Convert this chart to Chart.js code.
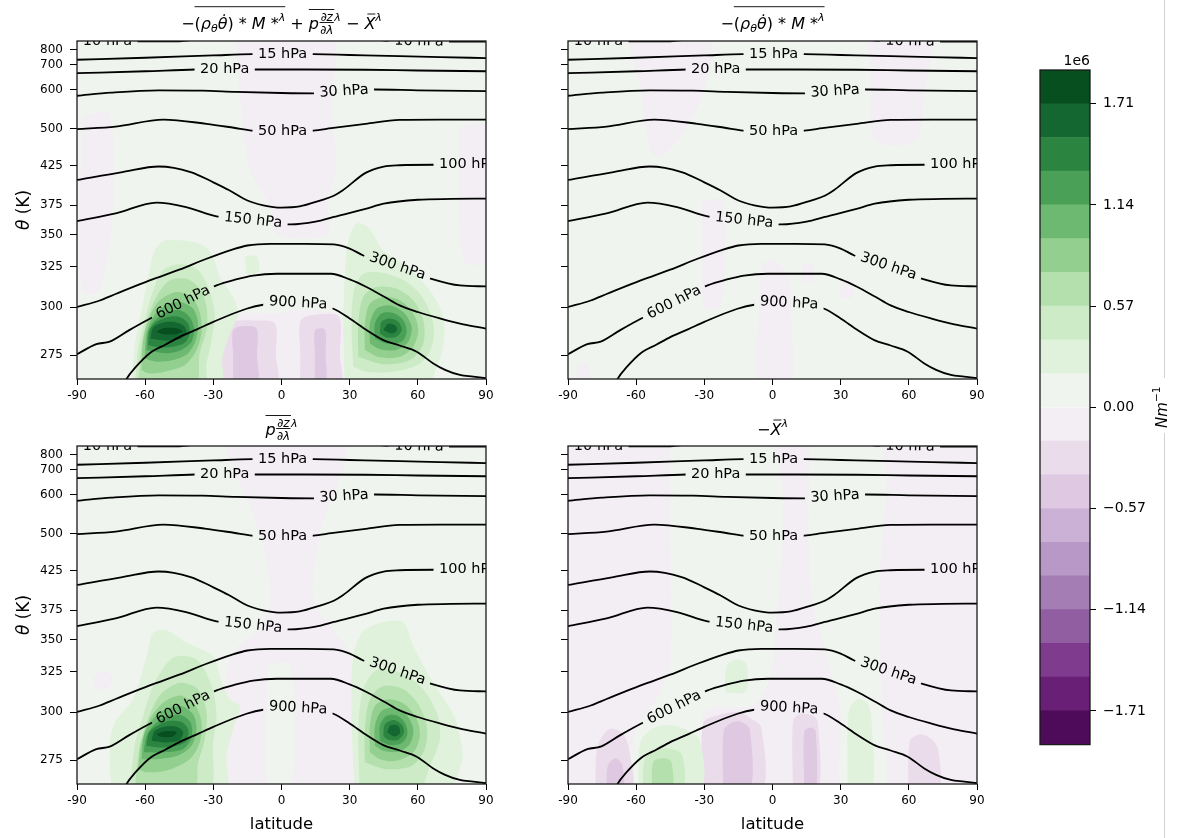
<!DOCTYPE html>
<html>
<head>
<meta charset="utf-8">
<script src="https://cdn.jsdelivr.net/npm/chart.js@4.4.0/dist/chart.umd.min.js"></script>
<style>
  body { margin: 0; background: #fff; width: 1181px; height: 838px; overflow: hidden; position: relative; }
  canvas { position: absolute; }
  .edge { position: absolute; left: 1164px; width: 1px; background: #d2d2d2; }
</style>
</head>
<body>
<canvas id="c1" width="510" height="406" style="left:0;top:0;width:510px;height:406px"></canvas>
<canvas id="c2" width="510" height="406" style="left:491px;top:0;width:510px;height:406px"></canvas>
<canvas id="c3" width="510" height="433" style="left:0;top:405px;width:510px;height:433px"></canvas>
<canvas id="c4" width="510" height="433" style="left:491px;top:405px;width:510px;height:433px"></canvas>
<canvas id="cb" width="181" height="710" style="left:1000px;top:50px;width:181px;height:710px"></canvas>
<div class="edge" style="top:0;height:378px"></div>
<div class="edge" style="top:433px;height:405px"></div>
<script>
// ---- axes ----
const latTicks = [-90, -60, -30, 0, 30, 60, 90];
const thetaTicks = [275, 300, 325, 350, 375, 425, 500, 600, 700, 800];
// vertical coordinate is not linear in theta: anchor thetas and where they sit (fraction of height)
const thetaAnchor = [262, 275, 300, 325, 350, 375, 425, 500, 600, 700, 800, 860];
const thetaFrac   = [0, 0.0706, 0.213, 0.333, 0.4275, 0.514, 0.631, 0.741, 0.8565, 0.9295, 0.975, 1];

// ---- colour levels (1e6 N m^-1) ----
const levels = [-1.9, -1.71, -1.52, -1.33, -1.14, -0.95, -0.76, -0.57, -0.38, -0.19, 0,
                0.19, 0.38, 0.57, 0.76, 0.95, 1.14, 1.33, 1.52, 1.71, 1.9];
const cbTicks = [-1.71, -1.14, -0.57, 0, 0.57, 1.14, 1.71];
const bandColors = ['#4d0b59','#681f75','#7f3b8d','#905ea1','#a37db4','#b898c6','#cbb1d5','#dec8e2','#ebdceb','#f3eef3',
                    '#eff5ee','#e0f2dc','#ccebc6','#b3e0ad','#93d090','#6db971','#4aa056','#2b8541','#146730','#074f1f'];

// ---- isobars (same in every panel) ----
const isoNames = ['10 hPa','15 hPa','20 hPa','30 hPa','50 hPa','100 hPa','150 hPa','300 hPa','600 hPa','900 hPa'];
const isoLat = [
  [-90,-77,-60,-45,-40,-20,0,20,40,47,60,75,90],
  [-90,-60,-30,-13,0,14,30,52,70,90],
  [-90,-60,-38,-25,-12,10,37,60,90],
  [-90,-75,-54,-35,-20,0,14,27,41,60,90],
  [-90,-73,-52,-33,-21,-13,0,14,22,37,52,70,90],
  [-90,-70,-54,-40,-30,-23,-15,-8,0,8,17,23,27,37,45,52,67,90],
  [-90,-73,-55,-42,-28.6,-12,4,15,23,37,45,60,75,90],
  [-90,-80,-73,-58,-45,-33,-22,-15,-5,10,23,30,36,51,66,78.5,90],
  [-90,-81.5,-75.6,-67,-59.4,-43,-28.6,-20,-12.5,-2,10,21.7,30,37.4,45,52,60,70,80,90],
  [-70,-68.2,-64,-58,-51,-44.8,-37,-30,-15.4,-8,7,22.8,30,37.4,44.8,52,59.5,66.8,72,78.5,84.4,90]
];
const isoTheta = [
  [857,857,857,858,866,880,885,880,872,862,857,856,855],
  [733,746,761,769,770,769,764,757,750,744],
  [666,674,681,682,681,681,680,677,674],
  [584,592,598,597,594,591,590,595,600,598,596],
  [499,505,523,512,502,496,494,496,501,512,522,523,523],
  [407,417,424,417,404,394,381,375,373,374,381,387,394,416,424,426,427,427],
  [361.5,368,378.4,373.5,365.5,362,358.6,361,365,372,377,382,383,383.5],
  [300,304,308,316.4,323,331,338,341.4,342.7,342.7,342.2,339,333.6,325,317.4,313.3,312.7],
  [275.5,280.7,282,288,293,303,313.3,317,319.4,320.5,320.5,320.5,317,312.3,306.5,301,297.4,294,291,288.8],
  [257,262,268.7,276,280.5,284.5,288.5,292.3,299.1,301.4,302.5,299.1,294,288,282.8,280,276.8,270.5,267,264.2,263.3,262.4]
];
const isoLabelLat = [[-76.6, 60.5], [0.5], [-25], [27.5], [0.5], [82.2], [-12.5], [51], [-43.3], [7.3]];

// ---- filled contour regions, one list per panel (value, lat outline, theta outline) ----
const panelBase = [0.1, 0.1, 0.1, -0.1];

const p1Level = [-0.1,-0.1,-0.1,-0.1,-0.28,-0.28,-0.47,-0.47,
  0.28,0.28,0.28,0.47,0.47,0.66,0.66,0.85,0.85,1.05,1.05,1.24,1.24,1.43,1.43,1.62,1.62,1.81];
const p1Lat = [
  [-20,22,22,24,20,20,-2,-6,-14,-18],
  [-88,-76,-74,-80,-88],
  [78,92,92,80],
  [-30.1,-30,-29.4,-26.4,-12,-0.7,5.1,22.8,26.9,27,27.2],
  [-28.3,-28.2,-27.9,-21.3,-12,-2.9,-2.5,-2.2],
  [8.1,8.3,8.5,16.9,25.4,25.7,26],
  [-21.3,-21.3,-21.3,-16.9,-11,-10.8,-10.7],
  [14.7,14.7,14.8,19.1,19.4,19.5],
  [-66,-64.6,-61.6,-58.7,-56.2,-52.1,-43.3,-34.5,-30.1,-27.1,-21.3,-19.1,-22.7,-26,-27.1],
  [-16,-11,-10,-15],
  [27.9,27.2,27.9,29.4,33,38.2,44.8,56.5,65.3,71.2,71.2,68.3,63.9],
  [-64.6,-63.1,-60.2,-56.5,-52.1,-46.2,-37.4,-32.3,-29.4,-30.8,-33,-34.2],
  [31.6,30.8,31.9,36,44.8,55.1,62.4,66.8,66.1,61,49.2,37.4],
  [-63.1,-61.6,-58.7,-54.3,-49.2,-41.8,-36,-33,-33,-36,-38.2],
  [33.8,33.8,36,41.8,50.6,58,62.4,62.4,56.5,44.8],
  [-61.6,-60.9,-58,-53.6,-46.2,-39.6,-36,-35.2,-37.4,-42.6,-51.4,-58.7],
  [36.7,36.7,38.9,44.8,52.1,58,60.2,58,52.1,43.3],
  [-60.2,-59.4,-56.5,-51.4,-44.8,-38.9,-36.7,-37.7,-41.1,-47.7,-55],
  [38.9,38.9,41.8,47.7,53.6,57.3,55.8,50.6,43.3],
  [-59.4,-58.7,-55.8,-50.6,-44.8,-40.4,-38.5,-39.6,-44,-50.6],
  [41.1,41.1,44,49.2,53.6,55.1,52.9,46.2],
  [-58.7,-58,-55,-49.9,-44.8,-41.1,-40.4,-42.6,-47.7,-53.6],
  [43.3,44,47.7,51.4,52.9,50.6,46.2],
  [-57.7,-56.5,-52.9,-47.7,-43.3,-41.8,-44,-49.9],
  [44.8,47,49.9,50.9,48.5],
  [-55,-52.1,-46.2,-43.6,-46.5,-52.4]
];
const p1Theta = [
  [880,880,560,420,380,350,350,380,420,560],
  [530,540,380,310,310],
  [505,505,330,330],
  [258,275,291.4,296.2,297,296.6,298.3,297.4,291.4,275,258],
  [258,275,289.7,292.7,293,291.4,275,258],
  [258,275,293.1,296.2,294.8,275,258],
  [258,275,288,290,288.8,275,258],
  [258,275,288,288.3,275,258],
  [258,279.4,298.3,318.4,336.2,344.8,345.3,341.4,332.3,318.4,306.2,296.6,286.2,274.1,258],
  [333,333,322,320],
  [258,288,320.5,345.3,359.2,356.3,337.5,323.6,310.2,294.8,279.4,268.7,258],
  [258,277.7,293.1,310.2,322.5,326.6,323.6,312.3,296.6,282.8,270.5,258],
  [268.7,291.4,310.2,320.5,320.9,315.4,305.1,291.4,279.4,270.5,266,266],
  [258,279.4,294.8,308.2,316.4,317.4,311.3,300,288,276,258],
  [274.1,291.4,306.2,312.3,311.3,304.1,293.1,281.1,272.3,270.1],
  [266.9,282.8,294.8,304.1,309.2,306.2,297.4,287.1,277.7,269.6,266,265.1],
  [277.7,291.4,302.1,306.2,304.1,296.6,288,279.4,274.1,273.8],
  [273.2,286.2,294.8,301,303.1,299.1,291.4,282.8,276,272.3,271.4],
  [281.1,291.4,299.1,301,297.4,289.7,281.9,277.7,278.1],
  [277.7,287.1,293.1,297.4,298.3,294.8,288.8,281.9,277.7,276],
  [283.7,291.4,296.6,296.9,293.1,287.1,281.9,281.1],
  [280.2,288,292.3,294.8,294.8,291.4,286.2,281.4,279.4,279],
  [286.2,292.3,294,292.3,288,284.5,284.2],
  [283.7,289.3,291.7,292.3,290.5,287.1,283.7,282.5],
  [288,291.4,290.5,288,286.2],
  [287.3,289,289,287.4,285.9,285.9]
];

const p2Level = [-0.1,-0.1,-0.1,-0.1,-0.1,-0.1,-0.1];
const p2Lat = [
  [-64,-28,-30,-37,-47,-53,-56,-58],
  [42,69,67,63,45,43],
  [-31,-22,-21,-23,-30,-31],
  [-5,1,7,8,8,-6,-6],
  [30,35,35,30],
  [-86,-81,-81,-86],
  [13,18,18,13]
];
const p2Theta = [
  [880,880,598,510,450,450,510,598],
  [880,880,600,476,476,600],
  [381,381,330,300,300,330],
  [327,330,318,300,258,258,300],
  [316,316,306,306],
  [270,270,258,258],
  [327,327,316,316]
];

const p3Level = [-0.1,0.1,-0.1,
  0.28,0.28,0.47,0.47,0.66,0.66,0.85,0.85,1.05,1.05,1.24,1.24,1.43,1.43,1.62,1.62,1.81];
const p3Lat = [
  [-25.7,27.2,17,14,22,31,31,-23,-23,-10,-5,-9.5],
  [-6,4,4,-6],
  [-83,-78,-74,-77,-82],
  [-74.9,-75.6,-73.4,-65.3,-59.4,-56.5,-50.6,-41.8,-30.1,-27.1,-22.7,-18.3,-21.3,-24.2,-25],
  [32.3,30.8,31.6,36,44.8,53.6,58,66.8,76,79.3,79.3,72.7],
  [-66.8,-64.6,-60.9,-55.8,-47.7,-37.4,-30.8,-28.6,-30.1,-32.3],
  [34.5,33.8,36,41.8,50.6,61,68.3,69.7,65.3,60],
  [-64.6,-62.4,-58.7,-53.6,-44.8,-36.7,-33,-33.8,-36.7,-38.9],
  [36.7,36.7,38.9,44.8,53.6,60.2,63.9,63.1,57.3,46.2],
  [-63.1,-61.6,-58,-52.1,-44.8,-38.2,-35.2,-36,-40.4,-50.6,-59.4],
  [38.9,38.9,41.1,47,54.3,59.5,60.9,58,50.6,43.3],
  [-61.6,-60.6,-57.2,-51.4,-44,-38.9,-37.4,-39.6,-45.5,-55],
  [41.1,41.1,44,49.2,55.1,58,56.5,51.4,44.8],
  [-60.6,-59.4,-55.8,-49.9,-44,-40,-39.6,-43.3,-51.4],
  [43.3,43.3,46.2,50.6,54.3,55.4,52.9,47.7],
  [-59.4,-58.3,-54.3,-49.2,-44,-41.1,-41.8,-46.2,-53.6],
  [44.8,45.5,49.2,52.9,53.9,51.4,47],
  [-57.2,-55.8,-51.4,-46.2,-43.3,-44.8,-50.6],
  [46.5,48,51.4,52.1,49.5],
  [-55,-51.4,-46.2,-47.7,-52.9]
];
const p3Theta = [
  [880,880,500,390,360,335,258,258,335,360,390,500],
  [330,330,258,258],
  [322,326,321,314,315],
  [258,282.5,294.5,307.8,337,355.8,358,347.4,337,322.1,307.8,303.7,291.1,277.4,258],
  [258,294.5,337,357,365,364.5,345,318,297.9,282.5,273.7,258],
  [258,282.5,297.9,318,335.7,334.4,316,298,284.2,258],
  [258,291.1,314,326.2,325.2,316,299.7,285.9,272,258],
  [258,282.5,296.2,310.2,318,314,299.7,285.9,273.7,258],
  [273.7,291.1,307.8,316,314,304.7,292.8,280.8,272,270.1],
  [270.1,284.2,296.2,305.7,310.2,304.7,294.5,284.2,275.5,269.3,268.4],
  [279.1,292.8,303.7,307.8,304.7,296.2,287.6,279.1,274.6,275.5],
  [275.5,287.6,295.4,301.5,303.7,298.8,291.1,282.5,277.4,275.5],
  [282.5,292.8,300.6,302.6,298.3,291.1,283.4,279.4,279.9],
  [279.1,287.6,293.6,298,298.3,294.5,286.8,280.8,279.1],
  [285.1,292.8,298,298.3,294.5,288.5,283.9,282.8],
  [282.5,289.3,293.1,295.4,294.8,291.1,285.1,282.5,281.6],
  [287.6,293.6,295.9,293.6,289.3,285.6,285.6],
  [285.1,290.2,292.4,292.4,289.7,285.6,284.2],
  [289.3,293.1,292.8,289,287.3],
  [288.5,290,289.7,287.3,287.1]
];

const p4Level = [0.1,0.1,-0.28,-0.28,-0.28,-0.28,-0.47,-0.47,-0.47,0.28,0.28,0.28,0.47,0.66];
const p4Lat = [
  [-45,0,0,-8,-30,-30,-62,-60,-50,-45,-45],
  [16,47,47,48,49,31,30,25,17],
  [-78,-77,-72,-66,-63,-62],
  [-31,-30.5,-25,-15,-10,-5,-5],
  [9,9,12,18,20,20],
  [59.7,60.5,65,70,73,73],
  [-73,-72.5,-69,-66,-66],
  [-21.7,-21.5,-18,-14,-10,-10],
  [14,14,17,19,19],
  [-59,-58,-50,-40,-32,-32],
  [-21,-20,-15,-11.5,-11.5,-20],
  [33,33.5,37,42,43.6,43.6],
  [-57,-56,-48,-40,-40],
  [-53,-52.5,-48,-44.5,-44.5]
];
const p4Theta = [
  [880,880,330,305,300,258,258,290,310,330,500],
  [880,880,400,300,258,258,300,330,400],
  [258,282,291,289,280,258],
  [258,294,298,300,297,292,258],
  [258,295,299,298,294,258],
  [258,285,288.5,286,280,258],
  [258,272,276,272,258],
  [258,290,294.5,295,291,258],
  [258,290,292,290,258],
  [258,285,292.8,292,285,258],
  [313,330,334.4,331,313,311.9],
  [258,300,307.8,305,295,258],
  [258,276,281,278,258],
  [258,274,276,274,258]
];

// ---- helpers ----
const FAM = "'DejaVu Sans'";
const font = (sz, it) => (it ? 'italic ' : '') + sz + 'px ' + FAM;
Chart.defaults.font.family = 'DejaVu Sans';
const LABEL_PX = 14.5;

function thetaToFrac(v) {
  let i = 0;
  while (i < thetaAnchor.length - 2 && v > thetaAnchor[i + 1]) i++;
  return thetaFrac[i] + (v - thetaAnchor[i]) * (thetaFrac[i + 1] - thetaFrac[i]) / (thetaAnchor[i + 1] - thetaAnchor[i]);
}

class ThetaScale extends Chart.LinearScale {
  getPixelForValue(v) {
    return this.bottom - thetaToFrac(v) * (this.bottom - this.top);
  }
  getValueForPixel(px) {
    const f = (this.bottom - px) / (this.bottom - this.top);
    let i = 0;
    while (i < thetaFrac.length - 2 && f > thetaFrac[i + 1]) i++;
    return thetaAnchor[i] + (f - thetaFrac[i]) * (thetaAnchor[i + 1] - thetaAnchor[i]) / (thetaFrac[i + 1] - thetaFrac[i]);
  }
}
ThetaScale.id = 'theta';
Chart.register(ThetaScale);

function colorOf(v) {
  let k = 0;
  while (k < bandColors.length - 1 && v > levels[k + 1]) k++;
  return bandColors[k];
}

function yAt(pts, x) {
  let i = 0;
  while (i < pts.length - 2 && pts[i + 1].x < x) i++;
  const a = pts[i], b = pts[i + 1];
  return a.y + (b.y - a.y) * (x - a.x) / (b.x - a.x);
}

function labelBoxes(chart, index) {
  const ds = chart.data.datasets[index];
  const pts = chart.getDatasetMeta(index).data;
  const ctx = chart.ctx;
  ctx.font = font(LABEL_PX);
  const w = ctx.measureText(ds.label).width;
  return ds.isoLabels.map(lat => {
    const cx = chart.scales.x.getPixelForValue(lat);
    const ya = yAt(pts, cx - w / 2), yb = yAt(pts, cx + w / 2);
    return {cx, cy: yAt(pts, cx), ang: Math.atan2(yb - ya, w), w};
  });
}

// small math-title renderer
const TBIG = 16, TSMALL = 11, TFRAC = 12;
function drawRich(ctx, runs, cx, base) {
  const laid = [];
  let tot = 0;
  for (const r of runs) {
    let w;
    if (r.frac) {
      ctx.font = font(TFRAC, true);
      w = Math.max(ctx.measureText(r.frac[0]).width, ctx.measureText(r.frac[1]).width) + 2;
    } else {
      ctx.font = font(r.sup || r.sub ? TSMALL : TBIG, r.it);
      w = ctx.measureText(r.t).width;
    }
    laid.push({r, x: tot, w});
    tot += w;
  }
  const x0 = cx - tot / 2;
  ctx.fillStyle = '#000';
  ctx.strokeStyle = '#000';
  ctx.lineWidth = 0.9;
  ctx.textBaseline = 'alphabetic';
  const hline = (a, b, y) => { ctx.beginPath(); ctx.moveTo(a, y); ctx.lineTo(b, y); ctx.stroke(); };
  for (const {r, x, w} of laid) {
    const X = x0 + x;
    if (r.frac) {
      ctx.font = font(TFRAC, true);
      ctx.textAlign = 'center';
      ctx.fillText(r.frac[0], X + w / 2, base - 8);
      ctx.fillText(r.frac[1], X + w / 2, base + 5.5);
      hline(X + 0.5, X + w - 0.5, base - 6);
    } else {
      ctx.font = font(r.sup || r.sub ? TSMALL : TBIG, r.it);
      ctx.textAlign = 'left';
      ctx.fillText(r.t, X, base + (r.sup ? -7.5 : r.sub ? 3 : 0));
    }
    if (r.bar) hline(X + 3, X + w, base - r.bar);
  }
  let i = 0;
  while (i < laid.length) {
    const ol = laid[i].r.ol;
    if (!ol) { i++; continue; }
    let j = i;
    while (j + 1 < laid.length && laid[j + 1].r.ol === ol) j++;
    hline(x0 + laid[i].x, x0 + laid[j].x + laid[j].w, base - ol);
    i = j + 1;
  }
}

const T_FLUX = [{t: '−'}, {t: '(', ol: 21.8}, {t: 'ρ', it: 1, ol: 21.8}, {t: 'θ', it: 1, sub: 1, ol: 21.8},
  {t: 'θ\u0307', it: 1, ol: 21.8}, {t: ')', ol: 21.8}, {t: ' * ', ol: 21.8}, {t: 'M', it: 1, ol: 21.8},
  {t: ' *', ol: 21.8}, {t: 'λ', it: 1, sup: 1, ol: 21.8}];
const T_FORM = [{t: 'p', it: 1, ol: 19}, {frac: ['∂z', '∂λ'], ol: 19}, {t: 'λ', it: 1, sup: 1}];
const T_X = [{t: 'X', it: 1, bar: 14.5}, {t: 'λ', it: 1, sup: 1}];
const titles = [
  [...T_FLUX, {t: ' + '}, ...T_FORM, {t: ' − '}, ...T_X],
  T_FLUX,
  T_FORM,
  [{t: '−'}, ...T_X]
];
const titleBase = [28.5, 28.5, 29.5, 29.5];

const panelDeco = {
  id: 'panelDeco',
  beforeDraw(chart, args, o) {
    const {ctx, chartArea: a} = chart;
    ctx.save();
    ctx.fillStyle = colorOf(o.base);
    ctx.fillRect(a.left, a.top, a.right - a.left, a.bottom - a.top);
    ctx.restore();
  },
  beforeDatasetDraw(chart, args) {
    const ds = chart.data.datasets[args.index];
    if (!ds.isoLabels) return;
    const ctx = chart.ctx;
    const boxes = labelBoxes(chart, args.index);
    ctx.save();
    ctx.beginPath();
    ctx.rect(0, 0, chart.width, chart.height);
    for (const b of boxes) {
      const hw = b.w / 2 + 5.5, hh = 10, c = Math.cos(b.ang), s = Math.sin(b.ang);
      const pts = [[-hw, -hh], [hw, -hh], [hw, hh], [-hw, hh]].map(([u, v]) => [b.cx + u * c - v * s, b.cy + u * s + v * c]);
      ctx.moveTo(pts[0][0], pts[0][1]);
      for (let k = 1; k < 4; k++) ctx.lineTo(pts[k][0], pts[k][1]);
      ctx.closePath();
    }
    ctx.clip('evenodd');
  },
  afterDatasetDraw(chart, args) {
    if (chart.data.datasets[args.index].isoLabels) chart.ctx.restore();
  },
  afterDatasetsDraw(chart) {
    const {ctx, chartArea: a} = chart;
    ctx.save();
    ctx.beginPath();
    ctx.rect(a.left, a.top, a.right - a.left, a.bottom - a.top);
    ctx.clip();
    ctx.fillStyle = '#000';
    ctx.font = font(LABEL_PX);
    ctx.textAlign = 'center';
    ctx.textBaseline = 'middle';
    chart.data.datasets.forEach((ds, i) => {
      if (!ds.isoLabels) return;
      for (const b of labelBoxes(chart, i)) {
        ctx.save();
        ctx.translate(b.cx, b.cy);
        ctx.rotate(b.ang);
        ctx.fillText(ds.label, 0, 0);
        ctx.restore();
      }
    });
    ctx.restore();
    ctx.save();
    ctx.strokeStyle = '#1a1a1a';
    ctx.lineWidth = 1.3;
    ctx.strokeRect(a.left, a.top, a.right - a.left, a.bottom - a.top);
    ctx.restore();
  },
  afterDraw(chart, args, o) {
    const {ctx, chartArea: a} = chart;
    ctx.save();
    drawRich(ctx, o.title, (a.left + a.right) / 2, o.titleBase);
    ctx.fillStyle = '#000';
    if (o.yTitle) {
      ctx.translate(25, (a.top + a.bottom) / 2);
      ctx.rotate(-Math.PI / 2);
      ctx.font = font(17, true);
      const w1 = ctx.measureText('θ').width;
      ctx.font = font(17);
      const w2 = ctx.measureText(' (K)').width;
      ctx.textBaseline = 'middle';
      ctx.textAlign = 'left';
      ctx.font = font(17, true);
      ctx.fillText('θ', -(w1 + w2) / 2, 0);
      ctx.font = font(17);
      ctx.fillText(' (K)', -(w1 + w2) / 2 + w1, 0);
      ctx.setTransform(1, 0, 0, 1, 0, 0);
    }
    if (o.xTitle) {
      ctx.font = font(16.5);
      ctx.textAlign = 'center';
      ctx.textBaseline = 'middle';
      ctx.fillText('latitude', (a.left + a.right) / 2, a.bottom + 41);
    }
    ctx.restore();
  }
};

function makePanel(id, k, lv, lats, ths, showY, bottom) {
  const datasets = [];
  lv.forEach((v, j) => {
    const pts = lats[j].map((x, i) => ({x, y: ths[j][i]}));
    pts.push(pts[0]);
    datasets.push({data: pts, fill: 'shape', backgroundColor: colorOf(v), borderWidth: 0,
      pointRadius: 0, tension: 0.3, order: 1000 - j});
  });
  isoNames.forEach((name, i) => {
    datasets.push({label: name, isoLabels: isoLabelLat[i],
      data: isoLat[i].map((x, n) => ({x, y: isoTheta[i][n]})),
      borderColor: '#000', borderWidth: 1.8, pointRadius: 0, fill: false,
      cubicInterpolationMode: 'monotone', order: 0});
  });
  const tickFont = {family: 'DejaVu Sans', size: 12};
  return new Chart(document.getElementById(id), {
    type: 'line',
    data: {datasets},
    options: {
      responsive: false, animation: false, devicePixelRatio: 1, events: [],
      layout: {padding: {left: 0, right: 24, top: 41, bottom: 0}},
      plugins: {
        legend: {display: false}, tooltip: {enabled: false},
        panelDeco: {base: panelBase[k], title: titles[k], titleBase: titleBase[k], yTitle: showY, xTitle: bottom}
      },
      scales: {
        x: {
          type: 'linear', min: -90, max: 90,
          afterBuildTicks: s => { s.ticks = latTicks.map(value => ({value})); },
          afterFit: s => { s.height = bottom ? 54 : 27; },
          grid: {drawOnChartArea: false, drawTicks: true, tickLength: 6, tickColor: '#000'},
          border: {display: false},
          ticks: {font: tickFont, color: '#000', padding: 4, maxRotation: 0, autoSkip: false, callback: v => String(v)}
        },
        y: {
          type: 'theta', min: 262, max: 860,
          afterBuildTicks: s => { s.ticks = thetaTicks.map(value => ({value})); },
          afterFit: s => { s.width = 77; },
          grid: {drawOnChartArea: false, drawTicks: true, tickLength: 7, tickColor: '#000'},
          border: {display: false},
          ticks: {font: tickFont, color: '#000', padding: 7, autoSkip: false, callback: v => showY ? String(v) : ''}
        }
      }
    },
    plugins: [panelDeco]
  });
}

makePanel('c1', 0, p1Level, p1Lat, p1Theta, true, false);
makePanel('c2', 1, p2Level, p2Lat, p2Theta, false, false);
makePanel('c3', 2, p3Level, p3Lat, p3Theta, true, true);
makePanel('c4', 3, p4Level, p4Lat, p4Theta, false, true);

// ---- colour bar ----
const cbDeco = {
  id: 'cbDeco',
  afterDraw(chart) {
    const {ctx, chartArea: a} = chart;
    ctx.save();
    ctx.strokeStyle = '#1a1a1a';
    ctx.lineWidth = 1.3;
    ctx.strokeRect(a.left, a.top, a.right - a.left, a.bottom - a.top);
    ctx.fillStyle = '#000';
    ctx.font = font(14);
    ctx.textAlign = 'right';
    ctx.textBaseline = 'alphabetic';
    ctx.fillText('1e6', a.right, a.top - 5);
    ctx.translate(163, (a.top + a.bottom) / 2);
    ctx.rotate(-Math.PI / 2);
    ctx.font = font(15, true);
    const w1 = ctx.measureText('Nm').width;
    ctx.font = font(10.5);
    const w2 = ctx.measureText('−1').width;
    const x0 = -(w1 + w2) / 2;
    ctx.textAlign = 'left';
    ctx.textBaseline = 'middle';
    ctx.font = font(15, true);
    ctx.fillText('Nm', x0, 0);
    ctx.font = font(10.5);
    ctx.fillText('−1', x0 + w1, -6);
    ctx.restore();
  }
};

new Chart(document.getElementById('cb'), {
  type: 'bar',
  data: {
    labels: [''],
    datasets: bandColors.map((c, i) => ({
      data: [[levels[i], levels[i + 1]]], backgroundColor: c, borderWidth: 0,
      grouped: false, barPercentage: 1, categoryPercentage: 1
    }))
  },
  options: {
    responsive: false, animation: false, devicePixelRatio: 1, events: [],
    layout: {padding: {left: 40, right: 0, top: 20, bottom: 14}},
    plugins: {legend: {display: false}, tooltip: {enabled: false}},
    scales: {
      x: {display: false},
      y: {
        position: 'right', min: -1.9, max: 1.9,
        afterBuildTicks: s => { s.ticks = cbTicks.map(value => ({value})); },
        afterFit: s => { s.width = 91; },
        grid: {drawOnChartArea: false, tickLength: 6, tickColor: '#000'},
        border: {display: false},
        ticks: {font: {family: 'DejaVu Sans', size: 14}, color: '#000', padding: 7, autoSkip: false,
          callback: v => (v < 0 ? '−' : '') + Math.abs(v).toFixed(2)}
      }
    }
  },
  plugins: [cbDeco]
});
</script>
</body>
</html>
